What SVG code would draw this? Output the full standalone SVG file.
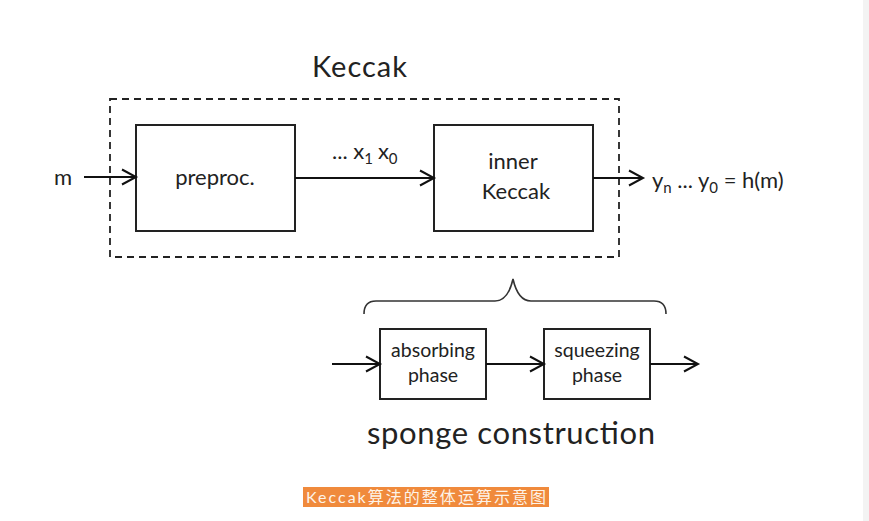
<svg xmlns="http://www.w3.org/2000/svg" width="869" height="521" viewBox="0 0 869 521">
<defs>
<marker id="arr" markerUnits="userSpaceOnUse" markerWidth="20" markerHeight="20" refX="17" refY="10" orient="auto">
<path d="M3,2.5 L17,10 L3,17.5" fill="none" stroke="#111" stroke-width="2"/>
</marker>
</defs>
<style>
text{font-family:Lato,"Open Sans","Liberation Sans","Noto Sans CJK SC",sans-serif;fill:#222}
.box{fill:#fff;stroke:#222;stroke-width:2}
.ln{stroke:#111;stroke-width:2;fill:none}
.t18{font-size:22px}
.t16{font-size:19.5px}
</style>
<rect x="0" y="0" width="869" height="521" fill="#fff"/>
<rect x="863" y="0" width="6" height="521" fill="#f3f3f3"/>
<text x="312" y="77" font-size="29" textLength="95">Keccak</text>
<g id="keccak-frame">
<rect x="110" y="99" width="509" height="158" fill="none" stroke="#222" stroke-width="1.8" stroke-dasharray="7,5"/>
</g>
<g id="preproc">
<rect class="box" x="136" y="125" width="159" height="106"/>
<text class="t18" x="215" y="185" text-anchor="middle">preproc.</text>
</g>
<g id="inner-keccak">
<rect class="box" x="434" y="125" width="159" height="106"/>
<text class="t18" x="513" y="169" text-anchor="middle">inner</text>
<text class="t18" x="516" y="199" text-anchor="middle">Keccak</text>
</g>
<g id="absorbing">
<rect class="box" x="380" y="329" width="106" height="70"/>
<text class="t16" x="433" y="357" text-anchor="middle">absorbing</text>
<text class="t16" x="433" y="382" text-anchor="middle">phase</text>
</g>
<g id="squeezing">
<rect class="box" x="544" y="329" width="106" height="70"/>
<text class="t16" x="597" y="357" text-anchor="middle">squeezing</text>
<text class="t16" x="597" y="382" text-anchor="middle">phase</text>
</g>
<g id="connectors">
<line class="ln" x1="84" y1="177" x2="136" y2="177" marker-end="url(#arr)"/>
<line class="ln" x1="295" y1="178" x2="434" y2="178" marker-end="url(#arr)"/>
<line class="ln" x1="593" y1="178" x2="643" y2="178" marker-end="url(#arr)"/>
<line class="ln" x1="332" y1="364" x2="380" y2="364" marker-end="url(#arr)"/>
<line class="ln" x1="486" y1="364" x2="544" y2="364" marker-end="url(#arr)"/>
<line class="ln" x1="650" y1="364" x2="698" y2="364" marker-end="url(#arr)"/>
<path d="M364,314 Q364,301 376,301 L495,301 Q508,301 513,279 Q518,301 531,301 L654,301 Q666,301 666,314" fill="none" stroke="#333" stroke-width="1.6"/>
</g>
<text class="t18" x="54" y="185">m</text>
<text class="t18" x="332" y="159">... x<tspan font-size="15" dy="5">1</tspan><tspan dy="-5" dx="5">x</tspan><tspan font-size="15" dy="5">0</tspan></text>
<text class="t18" x="652" y="188">y<tspan font-size="15" dy="5">n</tspan><tspan dy="-5"> ... y</tspan><tspan font-size="15" dy="5">0</tspan><tspan dy="-5"> = h(m)</tspan></text>
<text x="367" y="444" font-size="31" textLength="288">sponge construction</text>
<rect x="303" y="487" width="246" height="20" fill="#f08a3c"/>
<text x="306" y="503" font-size="16" style="fill:#fdf3e8" textLength="240">Keccak算法的整体运算示意图</text>
</svg>
